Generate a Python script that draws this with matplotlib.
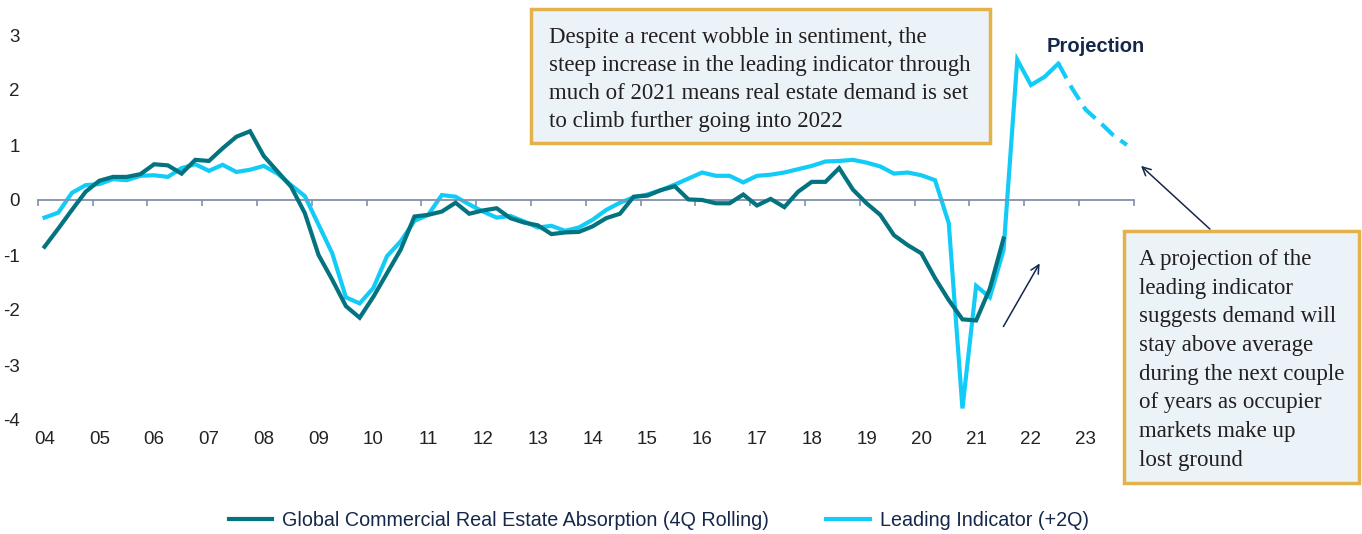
import numpy as np
import matplotlib
matplotlib.use("Agg")
import matplotlib.pyplot as plt
from matplotlib.lines import Line2D
from matplotlib.patches import FancyBboxPatch

# ---------------- data ----------------
year_labels = ["04", "05", "06", "07", "08", "09", "10", "11", "12", "13",
               "14", "15", "16", "17", "18", "19", "20", "21", "22", "23"]

absorption = [-0.85, -0.52, -0.18, 0.15, 0.35, 0.42, 0.42, 0.47, 0.65, 0.63,
              0.48, 0.73, 0.71, 0.94, 1.15, 1.25, 0.80, 0.52, 0.24, -0.24,
              -1.00, -1.45, -1.93, -2.14, -1.76, -1.33, -0.90, -0.30, -0.27, -0.21,
              -0.05, -0.25, -0.19, -0.15, -0.33, -0.41, -0.46, -0.62, -0.59, -0.58,
              -0.48, -0.33, -0.25, 0.06, 0.08, 0.18, 0.25, 0.01, 0.00, -0.06,
              -0.06, 0.10, -0.10, 0.02, -0.13, 0.15, 0.33, 0.33, 0.58, 0.19,
              -0.06, -0.27, -0.64, -0.82, -0.97, -1.42, -1.82, -2.17, -2.19, -1.61,
              -0.70]

leading = [-0.32, -0.23, 0.13, 0.27, 0.29, 0.38, 0.36, 0.44, 0.45, 0.42,
           0.58, 0.65, 0.53, 0.64, 0.51, 0.55, 0.62, 0.48, 0.27, 0.07,
           -0.45, -0.97, -1.77, -1.88, -1.60, -1.02, -0.75, -0.38, -0.27, 0.09,
           0.06, -0.08, -0.21, -0.32, -0.29, -0.39, -0.50, -0.47, -0.56, -0.50,
           -0.36, -0.18, -0.05, 0.05, 0.10, 0.18, 0.28, 0.39, 0.50, 0.44,
           0.44, 0.32, 0.44, 0.46, 0.50, 0.56, 0.62, 0.70, 0.71, 0.73,
           0.68, 0.61, 0.48, 0.50, 0.45, 0.36, -0.42, -3.79, -1.56, -1.77,
           -0.91, 2.55, 2.09, 2.24, 2.48, 2.03, 1.64, 1.42, 1.18, 1.00]

projection_start = 74   # index of first projected quarter (dashed from here)
y_ticks = [3, 2, 1, 0, -1, -2, -3, -4]

legend_labels = ["Global Commercial Real Estate Absorption (4Q Rolling)",
                 "Leading Indicator (+2Q)"]

top_note = ("Despite a recent wobble in sentiment, the\n"
            "steep increase in the leading indicator through\n"
            "much of 2021 means real estate demand is set\n"
            "to climb further going into 2022")
right_note = ("A projection of the\nleading indicator\nsuggests demand will\n"
              "stay above average\nduring the next couple\nof years as occupier\n"
              "markets make up\nlost ground")

# ---------------- style ----------------
DARK = "#047380"
LIGHT = "#12CCF7"
NAVY = "#15284B"
AXIS = "#8091AD"
BOX_FILL = "#EBF3F9"
BOX_EDGE = "#E3B24A"
SANS = ["Liberation Sans", "DejaVu Sans"]
SERIF = ["Liberation Serif", "DejaVu Serif"]

W, H = 1362, 534
fig = plt.figure(figsize=(W / 100, H / 100), dpi=100)


def fx(px):
    return px / W


def fy(py):
    return 1 - py / H


ax = fig.add_axes([fx(37.7), fy(420), fx(1133.7) - fx(37.7), fy(35) - fy(420)])

n = len(leading)
x_all = np.arange(n)
x_abs = np.arange(len(absorption))

ax.plot(x_abs, absorption, color=DARK, lw=3.0, solid_joinstyle="miter", zorder=3)
ax.plot(x_all[:projection_start + 1], leading[:projection_start + 1], color=LIGHT,
        lw=3.0, solid_joinstyle="miter", zorder=2)
ax.plot(x_all[projection_start:], leading[projection_start:], color=LIGHT, lw=3.0,
        dashes=(4, 2), zorder=2)

ax.set_xlim(-0.5, n - 0.5)
ax.set_ylim(-4, 3)

# zero axis with boundary tick marks
for s in ["top", "right", "left"]:
    ax.spines[s].set_visible(False)
ax.spines["bottom"].set_position(("data", 0))
ax.spines["bottom"].set_color(AXIS)
ax.spines["bottom"].set_linewidth(1.3)
ax.set_xticks(np.arange(-0.5, n, 4))
ax.xaxis.set_ticklabels([])
ax.tick_params(axis="x", direction="out", length=4.5, width=1.2, color=AXIS)

ax.set_yticks(y_ticks)
ax.set_yticklabels([str(v) for v in y_ticks])
ax.tick_params(axis="y", length=0, pad=13, labelsize=13.5, labelcolor="#222222")
for lab in ax.get_yticklabels():
    lab.set_family(SANS)

sec = ax.secondary_xaxis("bottom")
sec.set_xticks(np.arange(0, n, 4))
sec.set_xticklabels(year_labels)
sec.tick_params(axis="x", length=0, pad=8, labelsize=13.5, labelcolor="#222222")
for lab in sec.get_xticklabels():
    lab.set_family(SANS)
for s in sec.spines.values():
    s.set_visible(False)

# Projection label
fig.text(fx(1096), fy(46), "Projection", ha="center", va="center",
         fontsize=14.5, fontweight="bold", color=NAVY, family=SANS)

# annotation boxes
def note_box(x0, y0, x1, y1, text, tx, ty, linesp):
    box = FancyBboxPatch((fx(x0), fy(y1)), fx(x1) - fx(x0), fy(y0) - fy(y1),
                         boxstyle="square,pad=0", transform=fig.transFigure,
                         facecolor=BOX_FILL, edgecolor=BOX_EDGE, linewidth=2.5,
                         zorder=5)
    fig.add_artist(box)
    fig.text(fx(tx), fy(ty), text, ha="left", va="top", fontsize=16.5,
             color="#231F20", family=SERIF, linespacing=linesp, zorder=6)


note_box(531, 9, 990, 143, top_note, 549, 27, 1.44)
note_box(1124, 231, 1359, 483, right_note, 1139, 249, 1.48)

# arrows
arrow_kw = dict(arrowstyle="->,head_length=0.6,head_width=0.3", color=NAVY, lw=1.1)
fig.add_artist(plt.Annotation("", xy=(fx(1139), fy(164)), xytext=(fx(1212), fy(231)),
                              xycoords="figure fraction", textcoords="figure fraction",
                              arrowprops=arrow_kw))
fig.add_artist(plt.Annotation("", xy=(fx(1041), fy(261)), xytext=(fx(1002), fy(329)),
                              xycoords="figure fraction", textcoords="figure fraction",
                              arrowprops=arrow_kw))

# legend
handles = [Line2D([], [], color=DARK, lw=3.0), Line2D([], [], color=LIGHT, lw=3.0)]
leg = fig.legend(handles, legend_labels, loc="center left",
                 bbox_to_anchor=(fx(229), fy(520)), ncol=2, frameon=False,
                 borderpad=0, borderaxespad=0, handlelength=2.2, handletextpad=0.5,
                 columnspacing=2.9, prop={"family": SANS, "size": 14.2})
for t in leg.get_texts():
    t.set_color(NAVY)

fig.savefig("out.png", dpi=100)
